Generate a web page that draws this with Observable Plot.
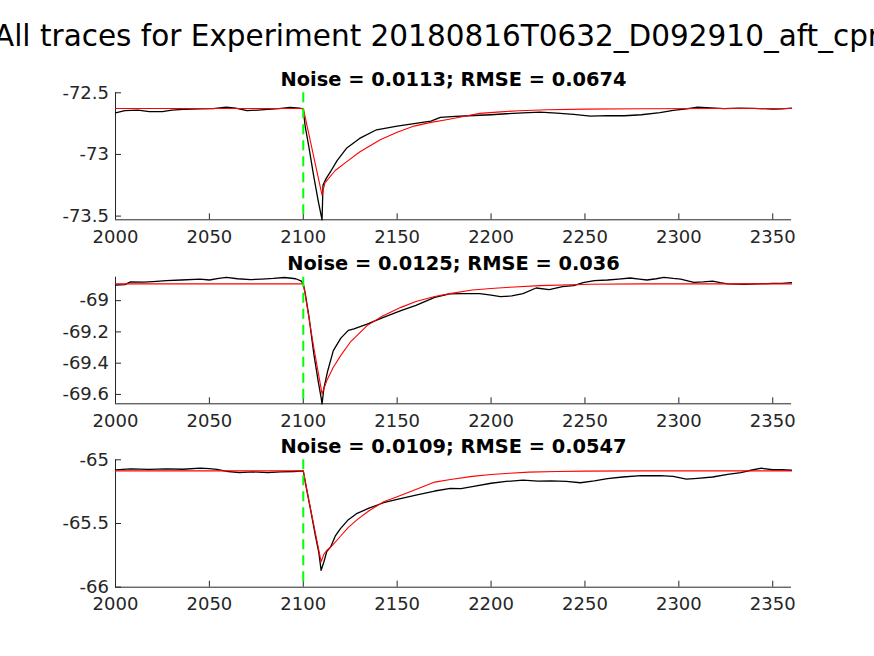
<!DOCTYPE html>
<html>
<head>
<meta charset="utf-8">
<script src="https://cdn.jsdelivr.net/npm/d3@7"></script>
<script src="https://cdn.jsdelivr.net/npm/@observablehq/plot@0.6"></script>
<style>
  body { margin: 0; background: #fff; }
  #root { position: relative; width: 874px; height: 656px; overflow: hidden; background: #fff; font-family: "DejaVu Sans", sans-serif; }
  #title { position: absolute; left: -200px; width: 1274px; top: 0; height: 51px; text-align: center; font-size: 29.5px; white-space: nowrap; color: #000; line-height: 1; }
  #title span { position: absolute; left: 0; right: 0; bottom: 0; }
  .panel { position: absolute; left: 0; top: 0; }
</style>
</head>
<body>
<div id="root">
  <div id="title"><span id="titletext"></span></div>
</div>
<script>
// ---------- data ----------
const mainTitle = "All traces for Experiment 20180816T0632_D092910_aft_cpr";
const panelTitles = [
  "Noise = 0.0113; RMSE = 0.0674",
  "Noise = 0.0125; RMSE = 0.036",
  "Noise = 0.0109; RMSE = 0.0547"
];
const xDomain = [2000, 2360];
const xTicks = [2000, 2050, 2100, 2150, 2200, 2250, 2300, 2350];
const eventTime = [2100];

const yDomain1 = [-73.53, -72.5];
const yTicks1 = [-73.5, -73, -72.5];
const yDomain2 = [-69.66, -68.85];
const yTicks2 = [-69.6, -69.4, -69.2, -69];
const yDomain3 = [-66, -65];
const yTicks3 = [-66, -65.5, -65];

// panel 1 measured trace
const black1X = [2000, 2005, 2012, 2018, 2025, 2030, 2036, 2045, 2052, 2059, 2064, 2070, 2076, 2081, 2087, 2093, 2098, 2100,
  2101, 2103, 2105.6, 2108, 2110, 2110.5, 2112, 2114.5, 2118, 2123, 2130, 2139, 2150, 2159, 2168, 2173, 2181, 2191, 2200,
  2208, 2217, 2226, 2235, 2244, 2253, 2262, 2271, 2280, 2290, 2297, 2304, 2310, 2317, 2324, 2332, 2340, 2350, 2355, 2360];
const black1Y = [-72.662, -72.645, -72.640, -72.653, -72.652, -72.640, -72.635, -72.630, -72.628, -72.616, -72.625, -72.645, -72.640, -72.635, -72.628, -72.618, -72.625, -72.630,
  -72.77, -72.94, -73.18, -73.38, -73.53, -73.25, -73.20, -73.14, -73.05, -72.95, -72.87, -72.80, -72.77, -72.75, -72.73, -72.70, -72.692, -72.684, -72.678,
  -72.670, -72.662, -72.657, -72.665, -72.675, -72.689, -72.685, -72.686, -72.678, -72.660, -72.643, -72.630, -72.616, -72.622, -72.628, -72.625, -72.627, -72.632, -72.630, -72.625];
// panel 1 fit
const red1X = [2000, 2100, 2110, 2111.5, 2117, 2123, 2130, 2141, 2150, 2159, 2168, 2177, 2186, 2194, 2205, 2215, 2230, 2250, 2280, 2320, 2360];
const red1Y = [-72.627, -72.627, -73.33, -73.23, -73.13, -73.06, -72.98, -72.88, -72.82, -72.77, -72.74, -72.716, -72.69, -72.667, -72.655, -72.645, -72.637, -72.632, -72.629, -72.627, -72.627];

// panel 2 measured trace
const black2X = [2000, 2005, 2008, 2015, 2020, 2027, 2035, 2045, 2050, 2055, 2059, 2065, 2072, 2078, 2084, 2090, 2096, 2099, 2100,
  2101, 2103, 2105.6, 2108, 2109.5, 2110, 2111, 2113, 2116, 2120, 2124, 2127, 2134, 2142, 2152, 2160, 2170, 2178, 2185, 2194,
  2200, 2205, 2211, 2217, 2224, 2231, 2238, 2244, 2249, 2255, 2262, 2268, 2274, 2279, 2283, 2288, 2292, 2297, 2301, 2308,
  2313, 2318, 2322, 2326, 2335, 2342, 2350, 2355, 2360];
const black2Y = [-68.900, -68.898, -68.880, -68.882, -68.878, -68.872, -68.868, -68.862, -68.868, -68.858, -68.851, -68.860, -68.865, -68.862, -68.858, -68.852, -68.860, -68.875, -68.893,
  -68.95, -69.10, -69.34, -69.52, -69.62, -69.66, -69.56, -69.45, -69.32, -69.24, -69.19, -69.18, -69.15, -69.11, -69.064, -69.03, -68.979, -68.957, -68.955, -68.955,
  -68.965, -68.974, -68.970, -68.955, -68.919, -68.930, -68.910, -68.904, -68.885, -68.872, -68.868, -68.862, -68.855, -68.862, -68.868, -68.860, -68.851, -68.858, -68.862, -68.883,
  -68.880, -68.875, -68.885, -68.893, -68.895, -68.893, -68.890, -68.889, -68.885];
// panel 2 fit
const red2X = [2000, 2100, 2101, 2105.6, 2110, 2112.6, 2116, 2120, 2125, 2134, 2142, 2152, 2160, 2170, 2178, 2190, 2200, 2210, 2226, 2253, 2280, 2360];
const red2Y = [-68.893, -68.893, -68.96, -69.30, -69.596, -69.51, -69.426, -69.35, -69.266, -69.16, -69.10, -69.043, -69.005, -68.974, -68.955, -68.932, -68.922, -68.914, -68.904, -68.895, -68.893, -68.893];

// panel 3 measured trace
const black3X = [2000, 2008, 2018, 2027, 2036, 2045, 2050, 2054, 2060, 2066, 2073, 2081, 2088, 2095, 2100,
  2100.5, 2102, 2104, 2106.5, 2108.3, 2109.5, 2111, 2112.5, 2114.5, 2117, 2119.8, 2124, 2128.7, 2135, 2142.8, 2150, 2160.6, 2170, 2178.4,
  2184, 2190, 2200, 2208, 2217, 2225, 2232, 2240, 2247.6, 2255, 2262, 2270, 2280, 2290, 2297, 2304, 2310, 2318, 2326, 2333, 2339, 2344, 2350, 2355, 2360];
const black3Y = [-65.079, -65.072, -65.075, -65.072, -65.074, -65.066, -65.070, -65.075, -65.092, -65.100, -65.095, -65.100, -65.095, -65.092, -65.087,
  -65.13, -65.25, -65.40, -65.60, -65.73, -65.868, -65.80, -65.72, -65.686, -65.60, -65.54, -65.47, -65.42, -65.38, -65.337, -65.31, -65.276, -65.245, -65.224,
  -65.226, -65.210, -65.184, -65.170, -65.160, -65.168, -65.165, -65.170, -65.180, -65.165, -65.147, -65.135, -65.124, -65.125, -65.130, -65.152, -65.145, -65.135, -65.115, -65.100, -65.080, -65.066, -65.078, -65.078, -65.082];
// panel 3 fit
const red3X = [2000, 2100, 2103.8, 2106.5, 2109.5, 2111, 2112.6, 2115, 2119.8, 2124, 2128.7, 2135, 2142.8, 2150, 2160.6, 2170, 2178.4, 2190, 2200, 2210, 2220, 2235, 2250, 2280, 2360];
const red3Y = [-65.087, -65.087, -65.38, -65.58, -65.80, -65.74, -65.71, -65.68, -65.60, -65.53, -65.47, -65.40, -65.33, -65.29, -65.23, -65.175, -65.155, -65.13, -65.115, -65.105, -65.097, -65.092, -65.089, -65.087, -65.087];

// ---------- drawing ----------
document.getElementById("titletext").textContent = mainTitle;

const W = 874, H = 656;
const fmt = d => String(d);
const zip = (xs, ys) => xs.map((x, i) => ({x, y: ys[i]}));

function panel({top, bottom, yDomain, yTicks, bx, by, rx, ry, title}) {
  const svg = Plot.plot({
    width: W, height: H,
    marginLeft: 115, marginRight: 83, marginTop: top, marginBottom: H - bottom,
    style: {fontFamily: "DejaVu Sans", fontSize: "18px", color: "#262626", background: "transparent", overflow: "visible"},
    x: {domain: xDomain, label: null},
    y: {domain: yDomain, label: null},
    marks: [
      Plot.ruleX([xDomain[0]], {stroke: "#262626", strokeWidth: 1}),
      Plot.ruleY([yDomain[0]], {stroke: "#262626", strokeWidth: 1}),
      Plot.axisX({ticks: xTicks, tickFormat: fmt, tickSize: -6, tickPadding: 16, label: null, stroke: "#262626", fill: "#262626"}),
      Plot.axisY({ticks: yTicks, tickFormat: fmt, tickSize: -6, tickPadding: 12.5, label: null, stroke: "#262626", fill: "#262626"}),
      Plot.line(zip(bx, by), {x: "x", y: "y", stroke: "#000", strokeWidth: 1.3}),
      Plot.line(zip(rx, ry), {x: "x", y: "y", stroke: "#ff0000", strokeWidth: 1.1}),
      Plot.ruleX(eventTime, {stroke: "#00ff00", strokeWidth: 2, strokeDasharray: "10,6"}),
      Plot.text([title], {text: d => d, frameAnchor: "top", dy: -13, fontWeight: "bold", fontSize: 19.4, fill: "#000", lineAnchor: "middle"})
    ]
  });
  svg.classList.add("panel");
  document.getElementById("root").appendChild(svg);
}

panel({top: 92.3, bottom: 219.3, yDomain: yDomain1, yTicks: yTicks1, bx: black1X, by: black1Y, rx: red1X, ry: red1Y, title: panelTitles[0]});
panel({top: 276.7, bottom: 403.3, yDomain: yDomain2, yTicks: yTicks2, bx: black2X, by: black2Y, rx: red2X, ry: red2Y, title: panelTitles[1]});
panel({top: 459.3, bottom: 586.7, yDomain: yDomain3, yTicks: yTicks3, bx: black3X, by: black3Y, rx: red3X, ry: red3Y, title: panelTitles[2]});
</script>
</body>
</html>
